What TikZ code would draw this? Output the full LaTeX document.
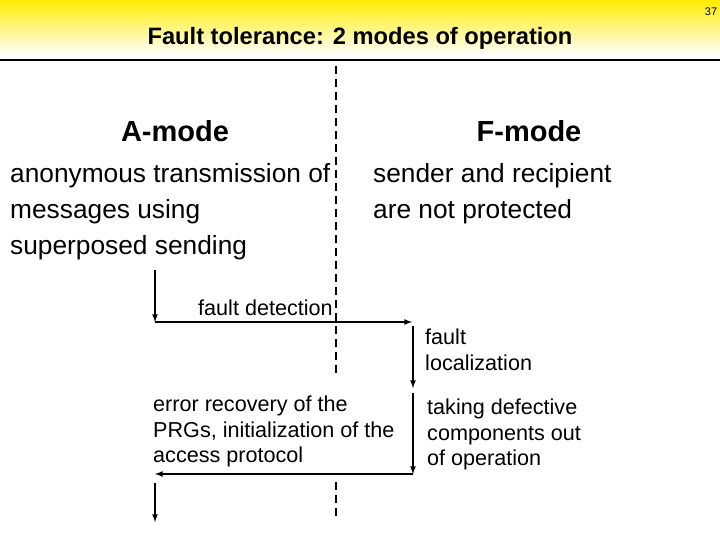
\documentclass[tikz,border=0pt]{standalone}
\usepackage{fontspec}
\setmainfont{Liberation Sans}
\begin{document}
\begin{tikzpicture}[x=1pt,y=-1pt,
  big/.style={font=\fontsize{26.3}{36}\selectfont,align=left,anchor=north west,inner sep=0},
  small/.style={font=\fontsize{21.6}{25.5}\selectfont,align=left,anchor=north west,inner sep=0},
  head/.style={font=\bfseries\fontsize{29}{32}\selectfont,inner sep=0},
  arr/.style={line width=1.6pt,-latex},
  divider/.style={line width=1.6pt,dash pattern=on 8pt off 5pt}]
\useasboundingbox (0,0) rectangle (720,540);
\shade[top color=yellow!85!orange, bottom color=white] (0,0) rectangle (720,55);
\draw[line width=1.8pt] (0,60) -- (720,60);
\node[font=\fontsize{11}{12}\selectfont] (num) at (711,12) {37};
\node[font=\bfseries\fontsize{23.7}{26}\selectfont] (title) at (360,38) {Fault tolerance: 2 modes of operation};
\coordinate (d1) at (336,66); \coordinate (d2) at (336,377);
\coordinate (d3) at (336,482); \coordinate (d4) at (336,520);
\draw[divider] (d1) -- (d2);
\draw[divider] (d3) -- (d4);
\node[head] (am) at (175,131) {A-mode};
\node[head] (fm) at (529,131) {F-mode};
\node[big] (at) at (10,163) {anonymous transmission of\\messages using\\superposed sending};
\node[big] (ft) at (373,163) {sender and recipient\\are not protected};
\node[small,anchor=west] (fd) at (198,308) {fault detection};
\node[small] (fl) at (425,329) {fault\\localization};
\node[small] (er) at (153,396) {error recovery of the\\PRGs, initialization of the\\access protocol};
\node[small] (td) at (427,399) {taking defective\\components out\\of operation};
\coordinate (a1) at (155,270); \coordinate (a2) at (155,322);
\coordinate (a3) at (412,322); \coordinate (b1) at (413,326);
\coordinate (b2) at (413,388); \coordinate (b3) at (413,393);
\coordinate (b4) at (413,474); \coordinate (c1) at (155,474);
\coordinate (e1) at (155,483); \coordinate (e2) at (155,522);
\draw[arr] (a1) -- (a2);
\draw[arr] (a2) -- (a3);
\draw[arr] (b1) -- (b2);
\draw[arr] (b3) -- (b4);
\draw[arr] (b4) -- (c1);
\draw[arr] (e1) -- (e2);
\end{tikzpicture}
\end{document}
